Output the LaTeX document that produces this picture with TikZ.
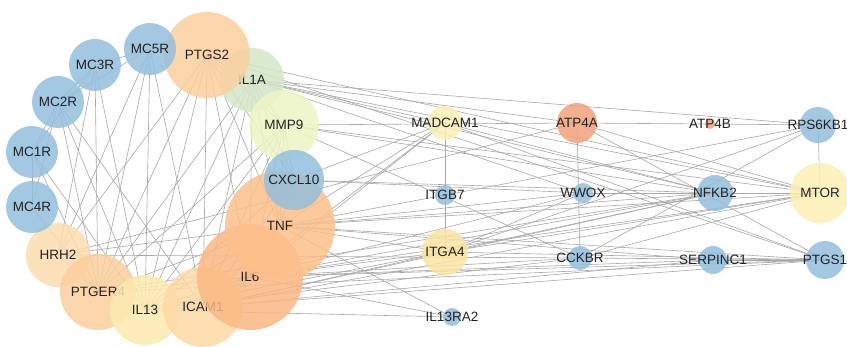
\documentclass[tikz,border=0pt]{standalone}
\usepackage{fontspec}
\setmainfont{Liberation Sans}
\usepackage{xcolor}
\definecolor{genblue}{HTML}{94BFDD}
\definecolor{genorange}{HTML}{FCCF9D}
\definecolor{gentnf}{HTML}{FCC08A}
\definecolor{genilsix}{HTML}{FBB983}
\definecolor{genicam}{HTML}{FDDAA4}
\definecolor{genlight}{HTML}{FDEAB0}
\definecolor{genhrh}{HTML}{FDDCAE}
\definecolor{gengreen}{HTML}{D4E7C8}
\definecolor{genlime}{HTML}{EEF5C4}
\definecolor{genatp}{HTML}{F3A27C}
\definecolor{genpale}{HTML}{FBF0B4}
\definecolor{genitga}{HTML}{FAE4A2}
\definecolor{edgegray}{HTML}{A8A8A8}
\definecolor{labelgray}{HTML}{222222}
\pgfdeclarelayer{edges}
\pgfsetlayers{edges,main}

\begin{document}
\begin{tikzpicture}[x=1pt, y=-1pt,
    gene/.style={circle, inner sep=0pt, fill opacity=0.85, draw=none},
    lbl/.style={inner sep=0pt, text opacity=1, text=labelgray,
                font=\fontsize{13.5}{15}\selectfont},
    link/.style={edgegray, line width=0.6pt}]
    \useasboundingbox (0,0) rectangle (847,347);

    % Left ring: receptors and cytokines
    \foreach \n/\x/\y/\d/\c in {HRH2/58/255/64/genhrh, PTGER4/98/292/76/genorange,
        IL13/145/310/70/genlight, ICAM1/203/307/80/genicam, IL6/250/277/106/genilsix,
        TNF/280/226/110/gentnf, IL1A/252/80/64/gengreen, PTGS2/207/55/86/genorange,
        MMP9/284/125/70/genlime, CXCL10/294/180/60/genblue} {
        \node[gene, minimum size=\d pt, fill=\c, label={[lbl]center:\n}] (\n) at (\x,\y) {};
    }
    \foreach \n/\x/\y in {MC4R/32/207, MC1R/32/152, MC2R/58/102, MC3R/95/65, MC5R/150/49} {
        \node[gene, minimum size=52pt, fill=genblue, label={[lbl]center:\n}] (\n) at (\x,\y) {};
    }

    % Right side targets
    \foreach \n/\x/\y/\d/\c in {MADCAM1/445/123/34/genpale, ITGB7/445/195/20/genblue,
        ITGA4/445/252/46/genitga, IL13RA2/452/317/18/genblue, ATP4A/577/123/40/genatp,
        WWOX/583/193/20/genblue, CCKBR/580/258/24/genblue, ATP4B/710/124/10/genatp,
        NFKB2/715/193/36/genblue, SERPINC1/713/260/28/genblue, RPS6KB1/818/125/36/genblue,
        MTOR/820/193/60/genpale, PTGS1/825/260/38/genblue} {
        \node[gene, minimum size=\d pt, fill=\c, label={[lbl]center:\n}] (\n) at (\x,\y) {};
    }

    % Interactions
    \begin{pgfonlayer}{edges}
    \fill[white] (0,0) rectangle (847,347);
    \foreach \a/\b in {MC5R/MC3R, MC5R/MC2R, MC3R/MC2R, MC3R/MC1R, MC2R/MC1R,
        MC2R/MC4R, MC1R/MC4R,
        MC5R/HRH2, MC5R/PTGER4, MC5R/IL13, MC5R/ICAM1, MC3R/HRH2, MC3R/PTGER4,
        MC3R/IL13, MC2R/PTGER4, MC2R/IL13, MC2R/ICAM1, MC1R/PTGER4, MC1R/IL13,
        MC4R/PTGER4,
        PTGS2/HRH2, PTGS2/PTGER4, PTGS2/IL13, PTGS2/ICAM1, PTGS2/IL6, PTGS2/TNF,
        PTGS2/IL1A, PTGS2/MMP9, PTGS2/CXCL10,
        IL1A/PTGER4, IL1A/IL13, IL1A/ICAM1, IL1A/IL6, IL1A/TNF,
        IL1A/MMP9, IL1A/CXCL10,
        MMP9/PTGER4, MMP9/IL13, MMP9/ICAM1, MMP9/IL6, MMP9/TNF, MMP9/CXCL10,
        CXCL10/IL13, CXCL10/ICAM1, CXCL10/IL6, CXCL10/TNF,
        TNF/HRH2, TNF/PTGER4, TNF/IL13, TNF/ICAM1, TNF/IL6,
        IL6/PTGER4, IL6/IL13, IL6/ICAM1, ICAM1/IL13, HRH2/PTGER4} {
        \draw[link] (\a.center) -- (\b.center);
    }
    \foreach \a/\b in {IL1A/ATP4A, IL1A/MADCAM1, IL1A/WWOX, IL1A/NFKB2, IL1A/RPS6KB1,
        IL1A/MTOR, PTGS2/MTOR, PTGS2/PTGS1, MMP9/ATP4A, MMP9/CCKBR, MMP9/NFKB2,
        MMP9/MTOR, CXCL10/NFKB2, CXCL10/MADCAM1, CXCL10/WWOX,
        HRH2/ATP4A, HRH2/CCKBR, PTGER4/PTGS1, PTGER4/NFKB2,
        TNF/MADCAM1, TNF/ITGA4, TNF/WWOX, TNF/NFKB2, TNF/MTOR, TNF/RPS6KB1,
        TNF/SERPINC1, TNF/PTGS1, TNF/IL13RA2,
        IL6/MADCAM1, IL6/ITGA4, IL6/WWOX, IL6/CCKBR, IL6/NFKB2, IL6/MTOR,
        IL6/SERPINC1, IL6/PTGS1, IL6/IL13RA2,
        ICAM1/MADCAM1, ICAM1/ITGA4, ICAM1/NFKB2, ICAM1/MTOR, ICAM1/SERPINC1,
        ICAM1/PTGS1, IL13/IL13RA2, IL13/ITGA4, IL13/CCKBR,
        MADCAM1/ITGB7, ITGB7/ITGA4, MADCAM1/NFKB2, MADCAM1/PTGS1,
        ITGA4/RPS6KB1, ITGA4/WWOX, ITGA4/MTOR, ITGA4/NFKB2, ITGA4/PTGS1,
        ATP4A/ATP4B, ATP4B/RPS6KB1, ATP4A/CCKBR, ATP4A/MTOR, ATP4A/PTGS1,
        CCKBR/MTOR, CCKBR/RPS6KB1, CCKBR/PTGS1, WWOX/MTOR,
        NFKB2/MTOR, SERPINC1/PTGS1, RPS6KB1/MTOR} {
        \draw[link] (\a.center) -- (\b.center);
    }
    \end{pgfonlayer}
\end{tikzpicture}
\end{document}
